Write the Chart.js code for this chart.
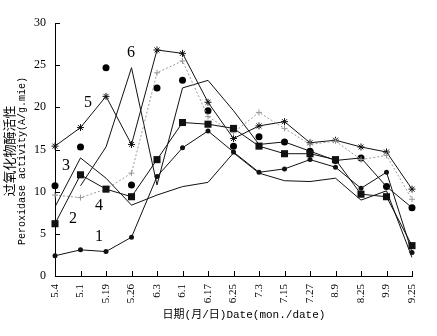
<!DOCTYPE html>
<html><head><meta charset="utf-8">
<script src="https://cdn.jsdelivr.net/npm/chart.js@4.4.0/dist/chart.umd.min.js"></script>
<style>html,body{margin:0;padding:0;background:#fff}</style>
</head><body>
<canvas id="c" width="437" height="336"></canvas>
<script>
const categories = ['5.4','5.1','5.19','5.26','6.3','6.1','6.17','6.25','7.3','7.15','7.27','8.9','8.25','9.9','9.25'];
const yTicks = [0,5,10,15,20,25,30];
const series1 = [2.4,3.1,2.9,4.6,11.8,15.2,17.2,14.7,12.3,12.7,13.8,12.9,10.4,12.3,2.8];
const series2 = [6.2,12.0,10.3,9.4,13.8,18.2,18.0,17.5,15.4,14.5,14.5,13.8,9.7,9.4,3.6];
const series3 = [8.2,14.0,11.6,8.4,9.6,10.6,11.1,14.6,12.2,11.3,11.2,11.6,9.0,10.1,2.2];
const series4 = [9.6,9.3,10.3,12.2,24.1,25.5,18.9,17.0,19.4,17.5,15.6,16.0,13.8,14.3,9.1];
const series5 = [15.4,17.6,21.3,15.6,26.8,26.4,20.6,16.3,17.8,18.3,15.8,16.1,15.3,14.7,10.3];
const series6 = [null,10.7,15.3,24.7,10.8,22.3,23.2,19.6,15.6,15.9,14.8,13.7,14.0,10.6,8.1];
const circles = [10.7,15.3,24.7,10.8,22.3,23.2,19.6,15.4,16.5,15.9,14.8,13.7,14.0,10.6,8.1];
const seriesLabels = ['1','2','3','4','5','6'];
const labelIdx = [1.73,0.71,0.43,1.73,1.29,2.98];
const labelVal = [4.6,6.8,13.1,8.3,20.5,26.5];
const yTitleCn = '过氧化物酶活性';
const yTitleEn = 'Peroxidase activity(A/g.mie)';
const xTitle = '日期(月/日)Date(mon./date)';

const annot = {
  id: 'annot',
  afterDraw(chart) {
    const {ctx, chartArea, scales: {x, y}} = chart;
    ctx.save();
    ctx.strokeStyle = '#000';
    ctx.lineWidth = 1;
    x.ticks.forEach((t, i) => {
      const px = Math.round(x.getPixelForTick(i)) + 0.5;
      ctx.beginPath(); ctx.moveTo(px, chartArea.bottom); ctx.lineTo(px, chartArea.bottom - 5); ctx.stroke();
    });
    y.ticks.forEach((t, i) => {
      const py = Math.round(y.getPixelForTick(i)) + 0.5;
      ctx.beginPath(); ctx.moveTo(chartArea.left, py); ctx.lineTo(chartArea.left + 5, py); ctx.stroke();
    });
    ctx.fillStyle = '#000';
    ctx.textAlign = 'center';
    ctx.textBaseline = 'middle';
    ctx.font = '16px "Liberation Serif"';
    seriesLabels.forEach((s, i) => {
      ctx.fillText(s, x.getPixelForValue(labelIdx[i]), y.getPixelForValue(labelVal[i]));
    });
    ctx.save();
    ctx.translate(9, 151); ctx.rotate(-Math.PI / 2);
    ctx.font = '13px "Noto Sans CJK SC"';
    ctx.fillText(yTitleCn, 0, 0);
    ctx.restore();
    ctx.save();
    ctx.translate(22, 161); ctx.rotate(-Math.PI / 2);
    ctx.font = '10px "Liberation Mono", "Noto Sans CJK SC"';
    ctx.fillText(yTitleEn, 0, 0);
    ctx.restore();
    ctx.font = '11px "Liberation Mono", "Noto Sans CJK SC"';
    ctx.fillText(xTitle, 244, 315);
    ctx.restore();
  }
};

const base = {borderColor: '#111', borderWidth: 1, tension: 0, pointBackgroundColor: '#111', pointBorderColor: '#111', pointBorderWidth: 0};
new Chart(document.getElementById('c'), {
  type: 'line',
  data: {
    labels: categories,
    datasets: [
      Object.assign({}, base, {data: series1, pointStyle: 'circle', pointRadius: 2.5}),
      Object.assign({}, base, {data: series2, pointStyle: 'rect', pointRadius: 5}),
      Object.assign({}, base, {data: series3, pointRadius: 0}),
      Object.assign({}, base, {data: series4, borderColor: '#999', borderDash: [2, 2], pointStyle: 'cross', pointRadius: 3, pointBorderColor: '#999', pointBorderWidth: 1}),
      Object.assign({}, base, {data: series5, pointStyle: 'star', pointRadius: 3.5, pointBorderWidth: 1}),
      Object.assign({}, base, {data: series6, pointRadius: 0, spanGaps: false}),
      Object.assign({}, base, {data: circles, showLine: false, pointStyle: 'circle', pointRadius: 3.5, pointBackgroundColor: '#000'})
    ]
  },
  options: {
    responsive: false,
    animation: false,
    layout: {padding: {left: 0, top: 23, right: 25, bottom: 0}},
    plugins: {legend: {display: false}, tooltip: {enabled: false}},
    scales: {
      x: {
        offset: false,
        grid: {display: false, drawTicks: false},
        border: {display: true, color: '#000', width: 1},
        ticks: {autoSkip: false, minRotation: 90, maxRotation: 90, padding: 8, color: '#000', font: {family: '"Liberation Serif"', size: 11}},
        afterFit: s => { s.height = 60; }
      },
      y: {
        min: 0, max: 30,
        grid: {display: false, drawTicks: false},
        border: {display: true, color: '#000', width: 1},
        afterBuildTicks: s => { s.ticks = yTicks.map(v => ({value: v})); },
        ticks: {padding: 9, color: '#000', font: {family: '"Liberation Serif"', size: 12}},
        afterFit: s => { s.width = 55; }
      }
    }
  },
  plugins: [annot]
});
</script>
</body></html>
